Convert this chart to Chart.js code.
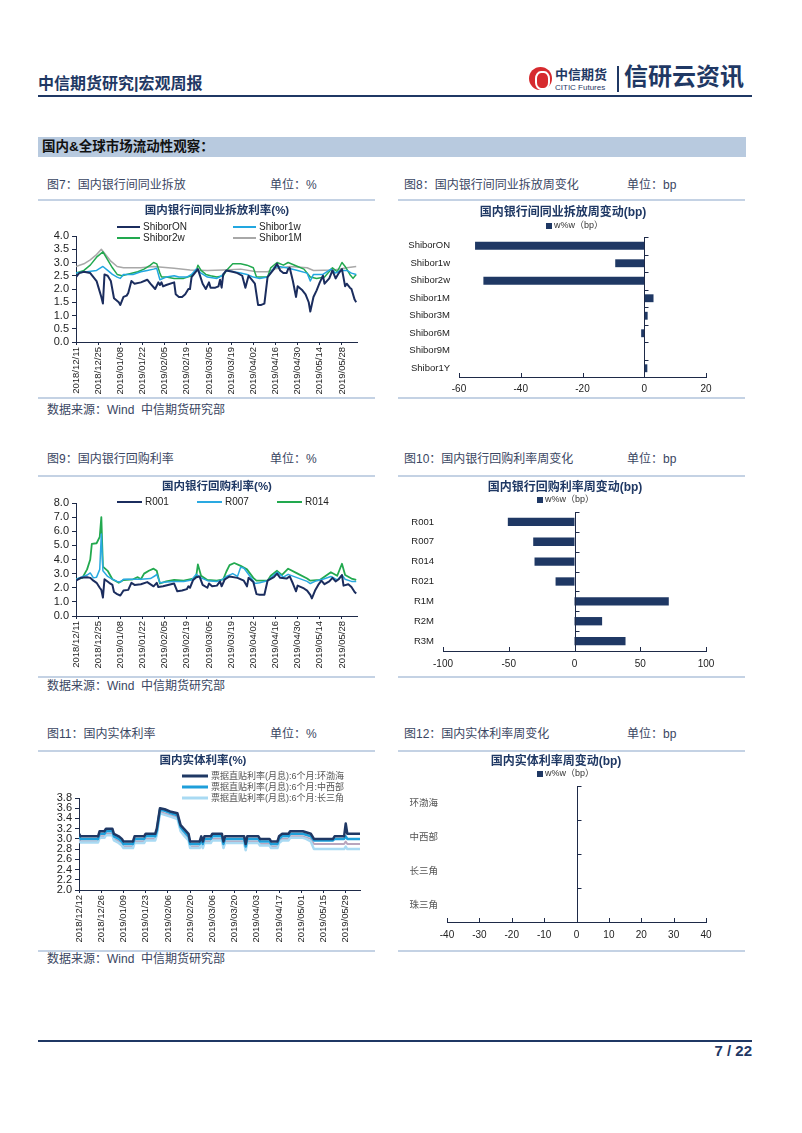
<!DOCTYPE html>
<html>
<head>
<meta charset="utf-8">
<script src="https://cdn.jsdelivr.net/npm/chart.js@4.4.1/dist/chart.umd.min.js"></script>
<style>
body { margin: 0; background: #fff; }
#page { position: relative; width: 802px; height: 1133px; overflow: hidden; font-family: "Liberation Sans", "Noto Sans CJK SC", sans-serif; }
.t { position: absolute; white-space: nowrap; line-height: 1; }
.cap { font-size: 12px; color: #3A4662; }
.rule { position: absolute; height: 2px; background: #C4D2E4; }
canvas { position: absolute; }
</style>
</head>
<body>
<div id="page">
  <div class="t" style="left:38px;top:76px;font-size:16px;font-weight:bold;color:#1F3864;">中信期货研究|宏观周报</div>
  <div style="position:absolute;left:529px;top:67px;width:23px;height:23px;border-radius:50%;background:#D62A2E;"></div>
  <div style="position:absolute;left:535px;top:71px;width:11px;height:15px;border:2px solid #fff;border-radius:40%;"></div>
  <div class="t" style="left:555px;top:68px;font-size:13px;font-weight:bold;color:#1F3864;">中信期货</div>
  <div class="t" style="left:555px;top:84px;font-size:8px;color:#1F3864;">CITIC Futures</div>
  <div style="position:absolute;left:617px;top:66px;width:2px;height:26px;background:#1F3864;"></div>
  <div class="t" style="left:624px;top:65px;font-size:24px;font-weight:bold;color:#1F3864;">信研云资讯</div>
  <div style="position:absolute;left:38px;top:95px;width:714px;height:2px;background:#1F3864;"></div>

  <div style="position:absolute;left:38px;top:137px;width:708px;height:20px;background:#B8CADF;"></div>
  <div class="t" style="left:42px;top:140px;font-size:13.5px;font-weight:bold;color:#111;">国内&amp;全球市场流动性观察：</div>

  <div class="t cap" style="left:47px;top:179px;">图7：国内银行间同业拆放</div>
  <div class="t cap" style="left:270px;top:179px;">单位：%</div>
  <div class="t cap" style="left:404px;top:179px;">图8：国内银行间同业拆放周变化</div>
  <div class="t cap" style="left:627px;top:179px;">单位：bp</div>
  <div class="rule" style="left:38px;top:199px;width:337px;"></div>
  <div class="rule" style="left:398px;top:199px;width:347px;"></div>
  <div class="rule" style="left:38px;top:397px;width:337px;"></div>
  <div class="rule" style="left:398px;top:397px;width:347px;"></div>
  <div class="t cap" style="left:47px;top:404px;">数据来源：Wind&nbsp; 中信期货研究部</div>

  <div class="t cap" style="left:47px;top:453px;">图9：国内银行回购利率</div>
  <div class="t cap" style="left:270px;top:453px;">单位：%</div>
  <div class="t cap" style="left:404px;top:453px;">图10：国内银行回购利率周变化</div>
  <div class="t cap" style="left:627px;top:453px;">单位：bp</div>
  <div class="rule" style="left:38px;top:475px;width:337px;"></div>
  <div class="rule" style="left:398px;top:475px;width:347px;"></div>
  <div class="rule" style="left:38px;top:676px;width:337px;"></div>
  <div class="rule" style="left:398px;top:676px;width:347px;"></div>
  <div class="t cap" style="left:47px;top:680px;">数据来源：Wind&nbsp; 中信期货研究部</div>

  <div class="t cap" style="left:47px;top:728px;">图11：国内实体利率</div>
  <div class="t cap" style="left:270px;top:728px;">单位：%</div>
  <div class="t cap" style="left:404px;top:728px;">图12：国内实体利率周变化</div>
  <div class="t cap" style="left:627px;top:728px;">单位：bp</div>
  <div class="rule" style="left:38px;top:750px;width:337px;"></div>
  <div class="rule" style="left:398px;top:750px;width:347px;"></div>
  <div class="rule" style="left:38px;top:950px;width:337px;"></div>
  <div class="rule" style="left:398px;top:950px;width:347px;"></div>
  <div class="t cap" style="left:47px;top:953px;">数据来源：Wind&nbsp; 中信期货研究部</div>

  <div style="position:absolute;left:38px;top:1040px;width:714px;height:2px;background:#1F3864;"></div>
  <div class="t" style="left:692px;top:1043px;width:60px;text-align:right;font-size:15px;font-weight:bold;color:#1F3864;">7 / 22</div>

  <canvas id="c7" width="330" height="195" style="left:40px;top:202px;"></canvas>
  <canvas id="c8" width="345" height="195" style="left:398px;top:202px;"></canvas>
  <canvas id="c9" width="330" height="198" style="left:40px;top:477px;"></canvas>
  <canvas id="c10" width="345" height="198" style="left:398px;top:477px;"></canvas>
  <canvas id="c11" width="330" height="196" style="left:40px;top:752px;"></canvas>
  <canvas id="c12" width="345" height="196" style="left:398px;top:752px;"></canvas>
</div>
<script>
// ---- data: x = days after first date label ----
const ibDates = ['2018/12/11','2018/12/25','2019/01/08','2019/01/22','2019/02/05','2019/02/19','2019/03/05','2019/03/19','2019/04/02','2019/04/16','2019/04/30','2019/05/14','2019/05/28'];
const realDates = ['2018/12/12','2018/12/26','2019/01/09','2019/01/23','2019/02/06','2019/02/20','2019/03/06','2019/03/20','2019/04/03','2019/04/17','2019/05/01','2019/05/15','2019/05/29'];

const shiborON = [[0,2.45],[2,2.6],[5,2.65],[9,2.6],[11,2.45],[13,2.3],[14,2.1],[16,1.7],[17,1.45],[18,2.55],[20,2.5],[22,2.3],[24,1.65],[27,1.5],[28,1.4],[30,1.7],[32,1.75],[33,1.85],[35,2.3],[37,2.2],[41,2.25],[45,2.35],[47,2.2],[50,2.0],[52,2.25],[53,2.15],[54,2.25],[55,2.1],[57,2.15],[62,2.25],[63,1.8],[65,1.7],[67,1.7],[69,1.8],[71,2.0],[72,2.0],[73,2.45],[75,2.6],[77,2.75],[80,2.2],[82,2.0],[84,2.25],[85,2.05],[88,2.05],[90,2.1],[91,2.35],[92,2.05],[93,2.55],[95,2.7],[99,2.65],[102,2.6],[105,2.5],[107,2.05],[109,2.5],[111,2.35],[113,2.2],[115,1.4],[117,1.4],[119,1.45],[121,2.45],[123,2.6],[125,2.75],[127,2.95],[129,2.7],[131,2.6],[133,2.6],[134,2.75],[135,2.8],[137,2.3],[139,1.7],[140,2.1],[143,1.95],[145,1.8],[147,1.5],[148,1.15],[150,1.7],[152,1.95],[154,2.25],[156,2.5],[157,2.2],[160,2.4],[162,2.7],[164,2.4],[166,2.6],[168,2.75],[170,2.1],[171,2.2],[173,2.05],[174,2.0],[176,1.6],[177,1.5]];
const shibor1w = [[0,2.6],[7,2.65],[13,2.7],[17,2.85],[20,2.7],[23,2.55],[26,2.45],[28,2.4],[30,2.55],[36,2.55],[41,2.65],[45,2.7],[49,2.75],[51,2.78],[53,2.35],[57,2.45],[62,2.5],[65,2.45],[70,2.45],[73,2.55],[76,2.75],[79,2.6],[83,2.45],[89,2.4],[92,2.5],[95,2.7],[104,2.6],[108,2.55],[112,2.45],[116,2.4],[121,2.45],[125,2.8],[128,2.85],[133,2.8],[140,2.7],[146,2.6],[148,2.3],[150,2.55],[156,2.55],[161,2.75],[164,2.6],[167,2.7],[171,2.7],[174,2.6],[177,2.55]];
const shibor2w = [[0,2.6],[5,2.7],[9,2.9],[13,3.2],[17,3.4],[20,3.1],[23,2.8],[26,2.55],[29,2.5],[32,2.55],[39,2.65],[43,2.75],[47,2.9],[49,3.0],[51,2.95],[53,2.6],[54,2.45],[57,2.45],[62,2.4],[68,2.4],[73,2.5],[76,2.7],[77,2.9],[79,2.7],[82,2.55],[85,2.5],[89,2.45],[93,2.5],[95,2.7],[99,2.95],[104,2.95],[108,2.9],[112,2.8],[114,2.45],[121,2.45],[123,2.8],[127,3.0],[131,2.9],[134,3.0],[140,2.85],[144,2.75],[148,2.45],[152,2.4],[157,2.45],[162,2.8],[165,2.65],[168,3.0],[170,2.85],[173,2.55],[175,2.4],[177,2.55]];
const shibor1M = [[0,2.85],[5,2.95],[9,3.1],[13,3.3],[16,3.5],[18,3.35],[22,3.05],[26,2.85],[30,2.8],[41,2.8],[49,2.85],[62,2.78],[72,2.72],[83,2.7],[93,2.72],[104,2.75],[114,2.65],[121,2.65],[125,2.75],[135,2.85],[146,2.8],[150,2.7],[163,2.72],[171,2.8],[177,2.85]];

const r001 = [[0,2.5],[3,2.7],[7,2.75],[9,2.7],[11,2.5],[13,2.35],[15,2.0],[16,1.85],[17,1.3],[18,2.6],[21,2.35],[23,2.2],[24,1.7],[26,1.55],[28,1.45],[30,1.8],[33,1.85],[35,2.35],[37,2.2],[41,2.25],[45,2.4],[49,2.1],[51,2.35],[52,2.05],[55,2.1],[60,2.25],[62,2.3],[64,1.75],[67,1.8],[70,1.9],[71,2.1],[72,2.0],[74,2.55],[76,2.75],[78,2.8],[80,2.2],[83,2.0],[84,2.3],[86,2.1],[89,2.15],[91,2.45],[92,2.1],[94,2.6],[97,2.8],[102,2.7],[106,2.5],[108,2.1],[109,2.7],[112,2.4],[114,1.55],[116,1.5],[119,1.5],[121,2.5],[125,2.75],[127,3.0],[129,2.7],[133,2.65],[135,2.8],[137,2.3],[139,1.75],[140,2.15],[144,1.95],[146,1.8],[148,1.5],[149,1.25],[151,1.8],[153,2.2],[155,2.5],[157,2.25],[160,2.45],[162,2.7],[164,2.45],[166,2.6],[168,2.9],[169,2.15],[172,2.25],[174,2.05],[176,1.7],[177,1.6]];
const r007 = [[0,2.6],[7,2.9],[9,3.05],[11,2.7],[13,2.75],[15,3.3],[16,5.8],[17,3.2],[20,2.8],[23,2.6],[26,2.45],[28,2.4],[30,2.6],[36,2.6],[41,2.6],[47,2.65],[50,2.85],[51,2.95],[53,2.35],[57,2.4],[62,2.45],[68,2.45],[73,2.55],[76,2.95],[79,2.7],[83,2.5],[89,2.45],[92,2.55],[95,2.8],[99,3.0],[102,2.8],[104,3.45],[106,3.4],[110,2.8],[113,2.3],[116,2.35],[121,2.5],[125,2.9],[127,3.1],[131,2.75],[134,2.95],[140,2.7],[146,2.45],[148,2.3],[152,2.5],[156,2.6],[161,2.8],[165,2.55],[168,2.9],[170,2.6],[174,2.45],[177,2.45]];
const r014 = [[0,2.6],[4,2.7],[7,3.3],[9,4.0],[10,5.1],[13,5.15],[15,5.6],[16,7.0],[17,3.5],[20,3.2],[23,2.6],[27,2.35],[30,2.55],[36,2.6],[39,2.75],[41,2.6],[43,3.0],[46,3.2],[49,3.35],[51,3.2],[53,2.3],[57,2.45],[62,2.55],[68,2.5],[74,2.65],[76,2.85],[77,3.65],[79,2.85],[83,2.55],[89,2.5],[93,2.6],[95,3.15],[97,3.6],[100,3.75],[104,3.55],[108,3.3],[112,2.7],[114,2.5],[121,2.5],[123,2.85],[127,3.2],[130,2.9],[134,3.35],[140,3.0],[146,2.65],[148,2.5],[154,2.55],[161,3.1],[165,2.85],[168,3.7],[170,2.9],[174,2.65],[177,2.55]];

const realDays = [0,1,12,13,16,17,21,22,25,27,28,34,35,41,42,48,49,51,54,58,62,64,66,69,70,76,77,78,79,83,84,90,91,92,104,105,106,113,114,120,121,125,126,128,132,133,141,143,146,148,160,161,167,168,169,177];
const huanbohai = [3.1,3.05,3.05,3.15,3.15,3.2,3.2,3.1,3.05,3.0,2.95,2.95,3.05,3.05,3.1,3.1,3.2,3.6,3.58,3.53,3.5,3.27,3.2,3.1,2.95,2.95,3.05,2.95,3.05,3.05,3.1,3.1,2.95,3.05,3.05,2.9,3.05,3.05,3.0,3.0,2.95,2.95,3.05,3.1,3.1,3.15,3.15,3.13,3.1,3.0,3.0,3.05,3.05,3.3,3.1,3.1];
const zhongxibu = [3.05,3.0,3.0,3.1,3.1,3.15,3.15,3.05,3.0,2.95,2.9,2.9,3.0,3.0,3.05,3.05,3.15,3.57,3.55,3.5,3.46,3.23,3.15,3.05,2.9,2.9,3.0,2.9,3.0,3.0,3.05,3.05,2.9,3.0,3.0,2.85,3.0,3.0,2.95,2.95,2.9,2.9,3.0,3.05,3.05,3.1,3.1,3.08,3.05,2.97,2.97,3.0,3.0,3.05,3.0,3.0];
const changsanjiao = [2.95,2.93,2.93,3.02,3.02,3.07,3.07,2.97,2.92,2.87,2.82,2.82,2.92,2.92,2.97,2.97,3.07,3.5,3.47,3.43,3.39,3.15,3.07,2.97,2.82,2.82,2.92,2.82,2.92,2.92,2.97,2.97,2.82,2.92,2.92,2.78,2.92,2.92,2.87,2.87,2.82,2.82,2.92,2.97,2.97,3.02,3.02,3.0,2.95,2.8,2.8,2.8,2.8,2.85,2.8,2.8];
const zhusanjiao = [3.0,2.95,2.95,3.05,3.05,3.1,3.1,3.0,2.95,2.9,2.85,2.85,2.95,2.95,3.0,3.0,3.1,3.53,3.5,3.46,3.42,3.18,3.1,3.0,2.85,2.85,2.95,2.85,2.95,2.95,3.0,3.0,2.85,2.95,2.95,2.8,2.95,2.95,2.9,2.9,2.85,2.85,2.95,3.0,3.0,3.05,3.05,3.03,3.0,2.9,2.9,2.9,2.9,2.95,2.9,2.9];

const shiborCats = ['ShiborON','Shibor1w','Shibor2w','Shibor1M','Shibor3M','Shibor6M','Shibor9M','Shibor1Y'];
const shiborChg = [-54.8,-9.4,-52.1,3.0,1.1,-1.0,0.1,1.0];
const repoCats = ['R001','R007','R014','R021','R1M','R2M','R3M'];
const repoChg = [-50.7,-31.4,-30.4,-14.4,71.7,21.0,38.8];
const realCats = ['环渤海','中西部','长三角','珠三角'];
const realChg = [0,0,0,0];

// ---- styling ----
const FONT = '"Liberation Sans", "Noto Sans CJK SC", sans-serif';
const NAVY = '#1F3864';
const AXIS = '#1E2A48';
const TXT = '#222';

const pts = arr => arr.map(p => ({ x: p[0], y: p[1] }));
const onDays = vals => realDays.map((d, i) => ({ x: d, y: vals[i] }));

// title + hand placed legend
const deco = {
  id: 'deco',
  afterDraw(chart, args, o) {
    const ctx = chart.ctx;
    ctx.save();
    ctx.textBaseline = 'middle';
    ctx.textAlign = 'center';
    ctx.fillStyle = '#1F3864';
    ctx.font = 'bold ' + o.titleSize + 'px ' + FONT;
    ctx.fillText(o.title, o.titleX, o.titleY);
    ctx.textAlign = 'left';
    ctx.font = o.legendSize + 'px ' + FONT;
    o.legend.forEach((p, i) => {
      const ds = chart.data.datasets[i];
      if (o.box) {
        ctx.fillStyle = ds.backgroundColor;
        ctx.fillRect(p[0], p[1] - 3, 6, 6);
        ctx.fillStyle = '#333';
        ctx.fillText(o.box, p[0] + 8, p[1]);
        return;
      }
      ctx.strokeStyle = ds.borderColor;
      ctx.lineWidth = o.legendLine;
      ctx.beginPath();
      ctx.moveTo(p[0], p[1]);
      ctx.lineTo(p[0] + o.legendLen, p[1]);
      ctx.stroke();
      ctx.fillStyle = o.legendColor || TXT;
      ctx.fillText(ds.label, p[0] + o.legendLen + 3, p[1] + 0.5);
    });
    ctx.restore();
  }
};

// zero line and inner tick marks of the bar charts
const marks = {
  id: 'marks',
  afterDatasetsDraw(chart, args, o) {
    if (!o.on) return;
    const { ctx, chartArea: a, scales: { x, y } } = chart;
    const x0 = Math.round(x.getPixelForValue(0)) + 0.5;
    const n = y.ticks.length;
    ctx.save();
    ctx.strokeStyle = AXIS;
    ctx.lineWidth = 1;
    ctx.beginPath();
    ctx.moveTo(x0, a.top);
    ctx.lineTo(x0, a.bottom);
    x.ticks.forEach(t => {
      const px = Math.round(x.getPixelForValue(t.value)) + 0.5;
      ctx.moveTo(px, a.bottom);
      ctx.lineTo(px, a.bottom - 4);
    });
    for (let i = 0; i <= n; i++) {
      const py = Math.round(a.top + i * (a.bottom - a.top) / n) + 0.5;
      ctx.moveTo(x0, py);
      ctx.lineTo(x0 + 4, py);
    }
    ctx.stroke();
    ctx.restore();
  }
};

function makeLine(id, o) {
  return new Chart(document.getElementById(id), {
    type: 'line',
    data: { datasets: o.datasets },
    options: {
      responsive: false, animation: false, devicePixelRatio: 1,
      layout: { padding: { top: o.top, right: o.right, bottom: 0, left: 0 } },
      elements: { point: { radius: 0 }, line: { tension: 0, borderJoinStyle: 'round' } },
      plugins: { legend: { display: false }, tooltip: { enabled: false }, deco: o.deco },
      scales: {
        x: {
          type: 'linear', min: 0, max: o.xMax,
          ticks: {
            stepSize: 14, includeBounds: false, autoSkip: false, minRotation: 90, maxRotation: 90,
            padding: 2, color: TXT, font: { family: FONT, size: 9.5 },
            callback: v => o.xLabels[Math.round(v / 14)]
          },
          grid: { drawOnChartArea: false, tickLength: 3, color: AXIS },
          border: { color: AXIS },
          afterFit: s => { s.height = o.xH; }
        },
        y: {
          min: o.yMin, max: o.yMax,
          ticks: { stepSize: o.yStep, autoSkip: false, padding: 3, color: TXT, font: { family: FONT, size: o.yFont }, callback: v => v.toFixed(1) },
          grid: { drawOnChartArea: false, tickLength: 4, color: AXIS },
          border: { color: AXIS },
          afterFit: s => { s.width = o.yW; }
        }
      }
    },
    plugins: [deco]
  });
}

function makeBar(id, o) {
  return new Chart(document.getElementById(id), {
    type: 'bar',
    data: {
      labels: o.cats,
      datasets: [{ label: 'w%w（bp）', data: o.values, backgroundColor: NAVY, borderWidth: 0, barPercentage: o.barPct, categoryPercentage: 1 }]
    },
    options: {
      indexAxis: 'y',
      responsive: false, animation: false, devicePixelRatio: 1,
      layout: { padding: { top: o.top, right: o.right, bottom: 0, left: 0 } },
      plugins: { legend: { display: false }, tooltip: { enabled: false }, deco: o.deco, marks: { on: true } },
      scales: {
        x: {
          min: o.xMin, max: o.xMax,
          ticks: { stepSize: o.xStep, autoSkip: false, padding: o.xPad, color: TXT, font: { family: FONT, size: 10 } },
          grid: { display: false, drawTicks: false },
          border: { color: AXIS },
          afterFit: s => { s.height = o.xH; }
        },
        y: {
          ticks: { autoSkip: false, padding: 9, color: o.catColor || TXT, font: { family: FONT, size: 9.5 } },
          grid: { display: false, drawTicks: false },
          border: { display: false },
          afterFit: s => { s.width = o.yW; }
        }
      }
    },
    plugins: [deco, marks]
  });
}

makeLine('c7', {
  datasets: [
    { label: 'ShiborON', data: pts(shiborON), borderColor: '#1B2D5E', borderWidth: 2 },
    { label: 'Shibor1w', data: pts(shibor1w), borderColor: '#22A7E0', borderWidth: 1.5 },
    { label: 'Shibor2w', data: pts(shibor2w), borderColor: '#22A94F', borderWidth: 1.5 },
    { label: 'Shibor1M', data: pts(shibor1M), borderColor: '#A8A8A8', borderWidth: 1.5 }
  ],
  top: 34, right: 13, xH: 55, yW: 36, xMax: 177.5, xLabels: ibDates,
  yMin: 0, yMax: 4, yStep: 0.5, yFont: 11,
  deco: { title: '国内银行间同业拆放利率(%)', titleSize: 11.5, titleX: 177, titleY: 9,
          legendSize: 10, legendLine: 2, legendLen: 23,
          legend: [[77, 25], [193, 25], [77, 36], [193, 36]] }
});

makeBar('c8', {
  cats: shiborCats, values: shiborChg, barPct: 0.45,
  top: 35, right: 37, xH: 20, yW: 61, xMin: -60, xMax: 20, xStep: 20, xPad: 6,
  deco: { title: '国内银行间同业拆放周变动(bp)', titleSize: 12, titleX: 165, titleY: 11,
          legendSize: 9, box: 'w%w（bp）', legend: [[148, 24]] }
});

makeLine('c9', {
  datasets: [
    { label: 'R001', data: pts(r001), borderColor: '#1B2D5E', borderWidth: 2 },
    { label: 'R007', data: pts(r007), borderColor: '#2AA9E1', borderWidth: 1.5 },
    { label: 'R014', data: pts(r014), borderColor: '#22A94F', borderWidth: 1.8 }
  ],
  top: 26, right: 13, xH: 59, yW: 36, xMax: 177.5, xLabels: ibDates,
  yMin: 0, yMax: 8, yStep: 1, yFont: 11,
  deco: { title: '国内银行回购利率(%)', titleSize: 11.5, titleX: 177, titleY: 10,
          legendSize: 10, legendLine: 2, legendLen: 25,
          legend: [[77, 25], [157, 25], [237, 25]] }
});

makeBar('c10', {
  cats: repoCats, values: repoChg, barPct: 0.42,
  top: 35, right: 37, xH: 24, yW: 45, xMin: -100, xMax: 100, xStep: 50, xPad: 7,
  deco: { title: '国内银行回购利率周变动(bp)', titleSize: 12, titleX: 167, titleY: 11,
          legendSize: 9, box: 'w%w（bp）', legend: [[139, 23]] }
});

makeLine('c11', {
  datasets: [
    { label: '票据直贴利率(月息):6个月:环渤海', data: onDays(huanbohai), borderColor: '#1F3864', borderWidth: 2.5 },
    { label: '票据直贴利率(月息):6个月:中西部', data: onDays(zhongxibu), borderColor: '#1E9FDA', borderWidth: 2.5 },
    { label: '票据直贴利率(月息):6个月:长三角', data: onDays(changsanjiao), borderColor: '#A9DAF3', borderWidth: 2.5 },
    { label: '票据直贴利率(月息):6个月:珠三角', data: onDays(zhusanjiao), borderColor: '#B9A6BE', borderWidth: 2 }
  ],
  top: 46, right: 10, xH: 58, yW: 39, xMax: 177, xLabels: realDates,
  yMin: 2.0, yMax: 3.8, yStep: 0.2, yFont: 11,
  deco: { title: '国内实体利率(%)', titleSize: 11.5, titleX: 163, titleY: 9,
          legendSize: 9, legendLine: 3, legendLen: 26, legendColor: '#555',
          legend: [[142, 24], [142, 35], [142, 46]] }
});

makeBar('c12', {
  cats: realCats, values: realChg, barPct: 0.45, catColor: '#555',
  top: 34, right: 37, xH: 26, yW: 49, xMin: -40, xMax: 40, xStep: 10, xPad: 7,
  deco: { title: '国内实体利率周变动(bp)', titleSize: 12, titleX: 158, titleY: 10,
          legendSize: 9, box: 'w%w（bp）', legend: [[139, 22]] }
});
</script>
</body>
</html>
